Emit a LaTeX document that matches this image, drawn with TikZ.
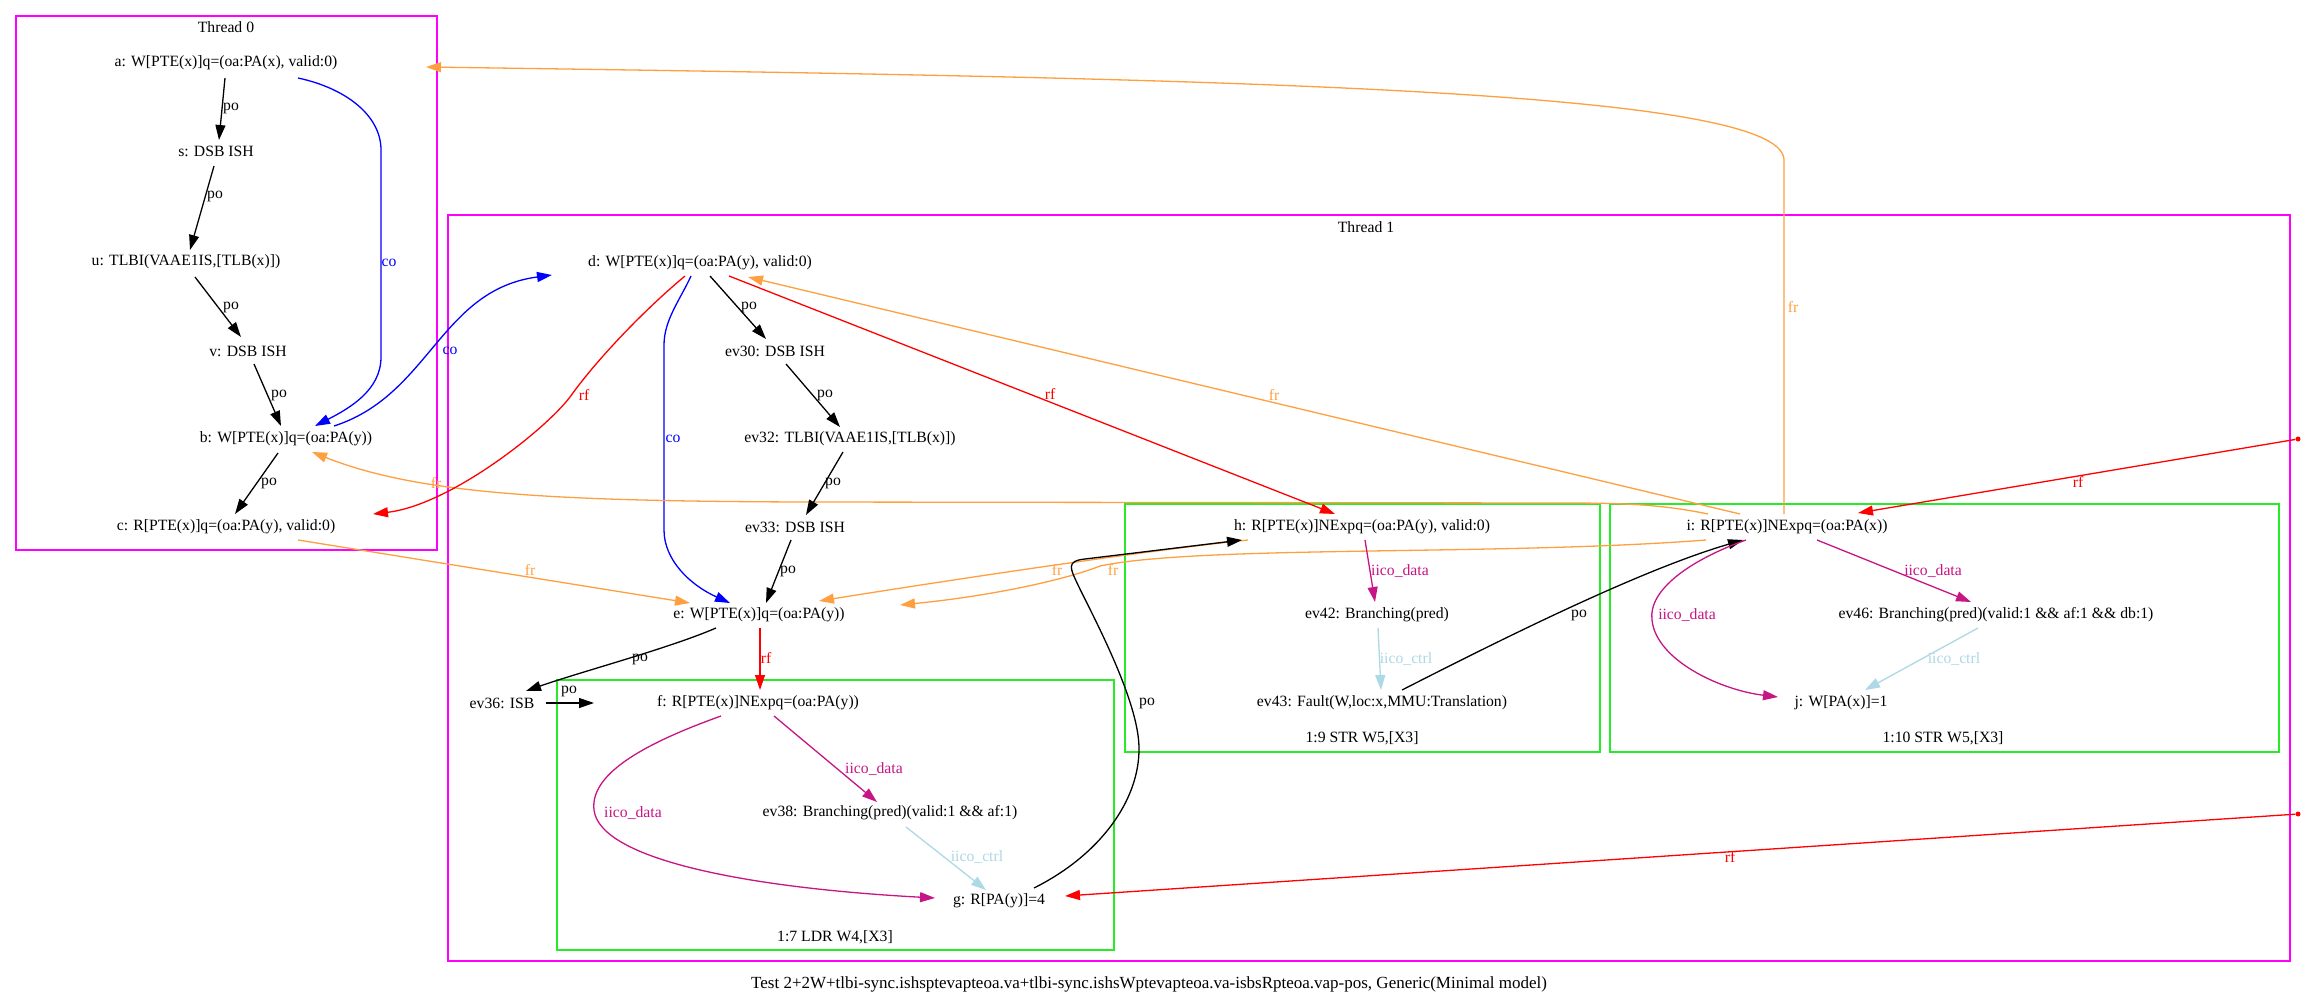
\documentclass[tikz,border=0pt]{standalone}
\usepackage{fontspec}
\setmainfont{Liberation Serif}
\usetikzlibrary{calc,arrows.meta}

\definecolor{frc}{RGB}{255,160,64}
\definecolor{iicod}{RGB}{199,21,133}
\definecolor{iicoc}{RGB}{173,216,230}
\definecolor{thr}{RGB}{255,0,255}
\definecolor{grp}{RGB}{40,235,40}

\begin{document}
\begin{tikzpicture}[x=1pt,y=-1pt,
  ev/.style={inner sep=0pt, font=\fontsize{15.7}{18}\selectfont},
  lbl/.style={inner sep=0pt, font=\fontsize{15.7}{18}\selectfont},
  edge/.style={line width=1.3pt, -{Triangle[length=15pt,width=10pt]}},
  po/.style={edge, black},
  co/.style={edge, blue},
  rf/.style={edge, red},
  fr/.style={edge, frc},
  idata/.style={edge, iicod},
  ictrl/.style={edge, iicoc},
  thread/.style={draw=thr, line width=1.6pt},
  instr/.style={draw=grp, line width=1.8pt},
  dot/.style={circle, fill=red, inner sep=0pt, minimum size=5pt},
]
\fill[white] (0,0) rectangle (2305,1003);
\useasboundingbox (0,0) rectangle (2305,1003);

% clusters
\draw[thread] (16,16) rectangle (437,550);
\node[lbl] (t0) at (226,27) {Thread 0};
\draw[thread] (448,215) rectangle (2290,961);
\node[lbl] (t1) at (1366,227) {Thread 1};
\draw[instr] (557,680) rectangle (1114,950);
\node[lbl] (c7) at (835,937) {1:7 LDR W4,[X3]};
\draw[instr] (1125,504) rectangle (1600,752);
\node[lbl] (c9) at (1362,738) {1:9 STR W5,[X3]};
\draw[instr] (1610,504) rectangle (2279,752);
\node[lbl] (c10) at (1943,738) {1:10 STR W5,[X3]};

% events of thread 0
\node[ev] (a) at (226,63) {a: W[PTE(x)]q=(oa:PA(x), valid:0)};
\node[ev] (s) at (216,151) {s: DSB ISH};
\node[ev] (u) at (186,262) {u: TLBI(VAAE1IS,[TLB(x)])};
\node[ev] (v) at (248,351) {v: DSB ISH};
\node[ev] (b) at (286,439) {b: W[PTE(x)]q=(oa:PA(y))};
\node[ev] (c) at (226,527) {c: R[PTE(x)]q=(oa:PA(y), valid:0)};

% events of thread 1
\node[ev] (d) at (700,263) {d: W[PTE(x)]q=(oa:PA(y), valid:0)};
\node[ev] (ev30) at (775,351) {ev30: DSB ISH};
\node[ev] (ev32) at (850,439) {ev32: TLBI(VAAE1IS,[TLB(x)])};
\node[ev] (ev33) at (795,527) {ev33: DSB ISH};
\node[ev] (e) at (759,615) {e: W[PTE(x)]q=(oa:PA(y))};
\node[ev] (ev36) at (502,703) {ev36: ISB};
\node[ev] (f) at (758,703) {f: R[PTE(x)]NExpq=(oa:PA(y))};
\node[ev] (ev38) at (890,813) {ev38: Branching(pred)(valid:1 \&\& af:1)};
\node[ev] (g) at (999,901) {g: R[PA(y)]=4};
\node[ev] (h) at (1362,527) {h: R[PTE(x)]NExpq=(oa:PA(y), valid:0)};
\node[ev] (ev42) at (1377,615) {ev42: Branching(pred)};
\node[ev] (ev43) at (1382,703) {ev43: Fault(W,loc:x,MMU:Translation)};
\node[ev] (i) at (1787,527) {i: R[PTE(x)]NExpq=(oa:PA(x))};
\node[ev] (ev46) at (1996,615) {ev46: Branching(pred)(valid:1 \&\& af:1 \&\& db:1)};
\node[ev] (j) at (1841,703) {j: W[PA(x)]=1};

% initial writes
\node[dot] (ix) at (2298,439) {};
\node[dot] (iy) at (2298,814) {};

% program order, thread 0
\draw[po] ($(a)+(-1,15)$) -- ($(s)+(3,-11)$) node[lbl] at (231,108) {po};
\draw[po] ($(s)+(-2,15)$) -- ($(u)+(4,-12)$) node[lbl] at (215,196) {po};
\draw[po] ($(u)+(9,15)$) -- ($(v)+(-7,-14)$) node[lbl] at (231,307) {po};
\draw[po] ($(v)+(6,13)$) -- ($(b)+(-5,-13)$) node[lbl] at (279,395) {po};
\draw[po] ($(b)+(-8,14)$) -- ($(c)+(9,-13)$) node[lbl] at (269,483) {po};

% coherence
\draw[co] ($(a)+(72,15)$) .. controls (345,88) and (381,115) .. (381,150) -- (381,357)
  .. controls (381,390) and (350,408) .. ($(b)+(29,-13)$) node[lbl] at (389,263) {co};
\draw[co] ($(b)+(48,-13)$) .. controls (430,395) and (440,290) .. ($(d)+(-148,12)$)
  node[lbl] at (450,351) {co};
\draw[co] ($(d)+(-9,13)$) .. controls (680,300) and (664,320) .. (664,345) -- (664,530)
  .. controls (664,560) and (690,585) .. ($(e)+(-29,-12)$) node[lbl] at (673,439) {co};

% from-reads
\draw[fr] ($(i)+(-3,-13)$) -- (1784,160) .. controls (1784,88) and (1200,78) .. ($(a)+(200,4)$)
  node[lbl] at (1793,307) {fr};
\draw[fr] ($(i)+(-79,-13)$) .. controls (1660,504) and (1620,503) .. (1560,503) -- (800,502)
  .. controls (560,501) and (420,495) .. ($(b)+(26,13)$) node[lbl] at (436,483) {fr};
\draw[fr] ($(i)+(-47,-13)$) -- ($(d)+(48,14)$) node[lbl] at (1274,395) {fr};
\draw[fr] ($(i)+(-81,13)$) .. controls (1500,556) and (1200,545) .. (1100,566)
  .. controls (1070,578) and (1000,595) .. ($(e)+(141,-10)$) node[lbl] at (1113,570) {fr};
\draw[fr] ($(h)+(-114,13)$) .. controls (1150,550) and (950,580) .. ($(e)+(60,-14)$)
  node[lbl] at (1057,570) {fr};
\draw[fr] ($(c)+(72,13)$) -- ($(e)+(-69,-12)$) node[lbl] at (530,570) {fr};

% reads-from
\draw[rf] ($(d)+(-15,13)$) .. controls (650,305) and (600,355) .. (570,397)
  .. controls (545,430) and (450,505) .. ($(c)+(147,-13)$) node[lbl] at (584,395) {rf};
\draw[rf] ($(d)+(29,13)$) -- ($(h)+(-27,-13)$) node[lbl] at (1050,394) {rf};
\draw[rf] ($(e)+(1,13)$) -- ($(f)+(2,-13)$) node[lbl] at (766,658) {rf};
\draw[rf] (ix) -- ($(i)+(71,-14)$) node[lbl] at (2078,482) {rf};
\draw[rf] (iy) -- ($(g)+(66,-5)$) node[lbl] at (1730,857) {rf};

% program order, thread 1
\draw[po] ($(d)+(10,13)$) -- ($(ev30)+(-9,-12)$) node[lbl] at (749,307) {po};
\draw[po] ($(ev30)+(11,13)$) -- ($(ev32)+(-10,-12)$) node[lbl] at (825,395) {po};
\draw[po] ($(ev32)+(-7,13)$) -- ($(ev33)+(11,-12)$) node[lbl] at (833,483) {po};
\draw[po] ($(ev33)+(-4,13)$) -- ($(e)+(7,-12)$) node[lbl] at (788,571) {po};
\draw[po] ($(e)+(-43,13)$) .. controls (670,648) and (580,672) .. ($(ev36)+(24,-12)$)
  node[lbl] at (640,659) {po};
\draw[po] ($(ev36)+(44,0)$) -- ($(f)+(-164,0)$) node[lbl] at (569,691) {po};
\draw[po] ($(g)+(35,-13)$) .. controls (1100,855) and (1140,800) .. (1139,747)
  .. controls (1138,700) and (1095,620) .. (1078,585)
  .. controls (1070,568) and (1066,561) .. (1085,559) -- ($(h)+(-120,13)$)
  node[lbl] at (1147,703) {po};
\draw[po] ($(ev43)+(20,-13)$) .. controls (1500,640) and (1640,570) .. ($(i)+(-44,13)$)
  node[lbl] at (1579,615) {po};

% intra-instruction dependencies
\draw[idata] ($(f)+(16,13)$) -- ($(ev38)+(-13,-11)$) node[lbl] at (874,769) {iico\_data};
\draw[idata] ($(f)+(-37,13)$) .. controls (640,745) and (590,775) .. (594,810)
  .. controls (600,860) and (750,888) .. ($(g)+(-64,-3)$) node[lbl] at (633,813) {iico\_data};
\draw[ictrl] ($(ev38)+(16,14)$) -- ($(g)+(-13,-11)$) node[lbl] at (977,857) {iico\_ctrl};
\draw[idata] ($(h)+(3,13)$) -- ($(ev42)+(-2,-13)$) node[lbl] at (1400,571) {iico\_data};
\draw[ictrl] ($(ev42)+(1,13)$) -- ($(ev43)+(-1,-13)$) node[lbl] at (1406,659) {iico\_ctrl};
\draw[idata] ($(i)+(30,13)$) -- ($(ev46)+(-25,-13)$) node[lbl] at (1933,571) {iico\_data};
\draw[idata] ($(i)+(-41,13)$) .. controls (1690,560) and (1648,590) .. (1652,620)
  .. controls (1656,660) and (1720,690) .. ($(j)+(-63,-6)$) node[lbl] at (1687,615) {iico\_data};
\draw[ictrl] ($(ev46)+(-18,13)$) -- ($(j)+(24,-13)$) node[lbl] at (1954,659) {iico\_ctrl};

% caption
\node[lbl, font=\fontsize{17}{20}\selectfont] (cap) at (1149,984) {Test 2+2W+tlbi-sync.ishsptevapteoa.va+tlbi-sync.ishsWptevapteoa.va-isbsRpteoa.vap-pos, Generic(Minimal model)};
\end{tikzpicture}
\end{document}
